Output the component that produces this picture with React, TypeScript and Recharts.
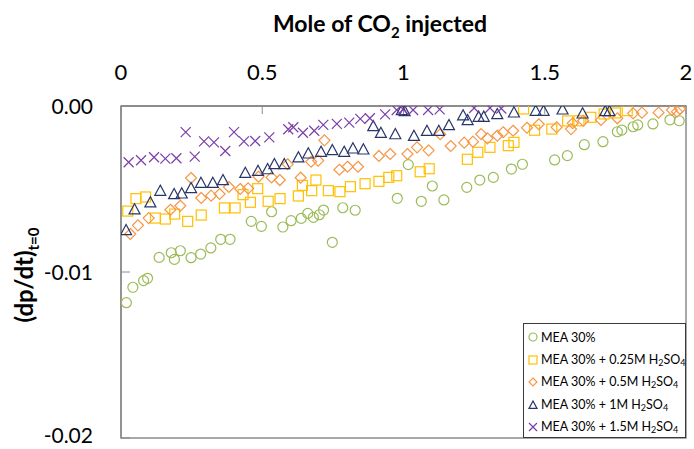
import React from 'react';
import { ScatterChart, Scatter, XAxis, YAxis, ReferenceArea, Legend } from 'recharts';

// [mole CO2 injected, (dp/dt) at t=0]
const mea30: [number, number][] = [
  [0.019, -0.01185], [0.042, -0.01092], [0.08, -0.01052], [0.094, -0.01038], [0.135, -0.00912],
  [0.178, -0.00884], [0.189, -0.00924], [0.21, -0.00872], [0.248, -0.00914], [0.282, -0.00892],
  [0.318, -0.00855], [0.353, -0.00803], [0.386, -0.00803], [0.461, -0.00695], [0.497, -0.00725],
  [0.533, -0.00637], [0.573, -0.00729], [0.602, -0.00691], [0.638, -0.00677], [0.661, -0.00647],
  [0.681, -0.00671], [0.702, -0.00655], [0.717, -0.00627], [0.748, -0.00821], [0.785, -0.00613],
  [0.829, -0.00628], [0.978, -0.00556], [1.017, -0.00353], [1.063, -0.00574], [1.102, -0.00482],
  [1.143, -0.00566], [1.224, -0.0049], [1.27, -0.00446], [1.318, -0.0043], [1.382, -0.0038],
  [1.421, -0.00351], [1.535, -0.00325], [1.58, -0.00299], [1.64, -0.00233], [1.706, -0.00215],
  [1.757, -0.00155], [1.773, -0.00145], [1.813, -0.00125], [1.829, -0.00114], [1.883, -0.00108],
  [1.943, -0.00083], [1.976, -0.00089],
];

const mea025: [number, number][] = [
  [0.024, -0.00633], [0.053, -0.00558], [0.087, -0.00548], [0.122, -0.00675], [0.157, -0.00681],
  [0.19, -0.00651], [0.236, -0.00695], [0.284, -0.00657], [0.366, -0.00614], [0.404, -0.00614],
  [0.432, -0.00534], [0.458, -0.0058], [0.484, -0.00498], [0.521, -0.00574], [0.563, -0.00558],
  [0.628, -0.00542], [0.642, -0.00478], [0.675, -0.0051], [0.69, -0.00446], [0.734, -0.0051],
  [0.775, -0.00516], [0.812, -0.00486], [0.864, -0.00468], [0.913, -0.00454], [0.948, -0.0043],
  [0.976, -0.0042], [1.059, -0.00396], [1.091, -0.00378], [1.226, -0.00321], [1.263, -0.00279],
  [1.306, -0.00249], [1.371, -0.00239], [1.391, -0.00219], [1.425, -0.00018], [1.464, -0.00146],
  [1.525, -0.00139], [1.581, -0.0009], [1.621, -0.00089], [1.663, -0.00068], [1.71, -0.00048],
  [1.75, -0.00042], [1.792, -0.00028],
];

const mea05: [number, number][] = [
  [0.033, -0.00771], [0.06, -0.00719], [0.098, -0.00675], [0.175, -0.00625], [0.21, -0.00601],
  [0.248, -0.00434], [0.284, -0.00554], [0.319, -0.0054], [0.349, -0.0053], [0.382, -0.00488],
  [0.422, -0.005], [0.45, -0.00496], [0.487, -0.00426], [0.533, -0.0043], [0.562, -0.00446],
  [0.59, -0.00351], [0.636, -0.00432], [0.673, -0.00336], [0.698, -0.00329], [0.72, -0.00207],
  [0.773, -0.00384], [0.802, -0.00366], [0.839, -0.00366], [0.913, -0.00301], [0.953, -0.00289],
  [1.014, -0.00289], [1.048, -0.00249], [1.089, -0.00267], [1.13, -0.0017], [1.167, -0.00241],
  [1.215, -0.00221], [1.246, -0.00215], [1.275, -0.00169], [1.297, -0.00195], [1.332, -0.00179],
  [1.353, -0.00158], [1.388, -0.00149], [1.437, -0.00131], [1.479, -0.0011], [1.542, -0.00128],
  [1.593, -0.00139], [1.599, -0.00104], [1.636, -0.00089], [1.699, -0.00084], [1.757, -0.00074],
  [1.813, -0.00044], [1.844, -0.0004], [1.903, -0.0004], [1.95, -0.00024], [1.968, -0.00034],
  [1.979, -0.00018],
];

const mea1: [number, number][] = [
  [0.018, -0.00747], [0.048, -0.00622], [0.104, -0.0058], [0.139, -0.0051], [0.188, -0.0053],
  [0.215, -0.00526], [0.248, -0.00494], [0.283, -0.00462], [0.325, -0.00462], [0.361, -0.00446],
  [0.44, -0.00402], [0.485, -0.0039], [0.519, -0.0038], [0.543, -0.00349], [0.578, -0.00349],
  [0.628, -0.00309], [0.663, -0.00285], [0.708, -0.00275], [0.748, -0.00265], [0.79, -0.00275],
  [0.821, -0.00255], [0.858, -0.00261], [0.893, -0.0012], [0.92, -0.00161], [0.971, -0.00169],
  [0.994, -0.00024], [1.004, -0.0003], [1.037, -0.00179], [1.083, -0.00149], [1.125, -0.00149],
  [1.161, -0.00114], [1.211, -0.00056], [1.227, -0.00084], [1.266, -0.00064], [1.284, -0.00064],
  [1.332, -0.00048], [1.391, -0.00038], [1.468, -0.00028], [1.496, -0.00028], [1.563, -0.0002],
  [1.634, -0.00044], [1.714, -0.0003], [1.729, -0.0003],
];

const mea15: [number, number][] = [
  [0.027, -0.00339], [0.071, -0.00327], [0.117, -0.00309], [0.157, -0.00317], [0.196, -0.00315],
  [0.229, -0.00157], [0.261, -0.00305], [0.294, -0.00213], [0.329, -0.00219], [0.369, -0.00271],
  [0.4, -0.00157], [0.435, -0.00213], [0.475, -0.00211], [0.525, -0.00189], [0.592, -0.0014],
  [0.61, -0.00128], [0.644, -0.00161], [0.684, -0.00149], [0.716, -0.00114], [0.764, -0.00108],
  [0.808, -0.001], [0.847, -0.00078], [0.881, -0.00074], [0.935, -0.0005], [0.976, -0.00024],
  [0.999, -0.0002], [1.034, -0.00024], [1.087, -0.00024], [1.128, -0.0002], [1.25, -0.00012],
  [1.306, -0.00012], [1.346, -0.00015],
];

const xTicks = [0, 0.5, 1, 1.5, 2];
const yTicks = [-0.02, -0.01, 0];
const legendNames = ['MEA 30%', 'MEA 30% + 0.25M', 'MEA 30% + 0.5M', 'MEA 30% + 1M', 'MEA 30% + 1.5M'];

const GREEN = '#9bbb59';
const GOLD = '#ffc000';
const ORANGE = '#f79646';
const NAVY = '#28356a';
const PURPLE = '#7a3fa8';
const FONT = 'Lato, "Open Sans", sans-serif';

const toPoints = (arr: [number, number][]) => arr.map(([x, y]) => ({ x, y }));

const circle = (color: string, r = 5) => (p: any) => (
  <circle cx={p.cx} cy={p.cy} r={r} fill="none" stroke={color} strokeWidth={1.2} />
);
const square = (color: string, h = 5) => (p: any) => (
  <rect x={p.cx - h} y={p.cy - h} width={h * 2} height={h * 2} fill="none" stroke={color} strokeWidth={1.2} />
);
const diamond = (color: string, h = 5.5) => (p: any) => (
  <path
    d={`M${p.cx},${p.cy - h}L${p.cx + h},${p.cy}L${p.cx},${p.cy + h}L${p.cx - h},${p.cy}Z`}
    fill="none"
    stroke={color}
    strokeWidth={1.2}
  />
);
const triangle = (color: string, h = 5.5) => (p: any) => (
  <path
    d={`M${p.cx},${p.cy - h}L${p.cx + h},${p.cy + h * 0.85}L${p.cx - h},${p.cy + h * 0.85}Z`}
    fill="none"
    stroke={color}
    strokeWidth={1.2}
  />
);
const cross = (color: string, h = 5) => (p: any) => (
  <path
    d={`M${p.cx - h},${p.cy - h}L${p.cx + h},${p.cy + h}M${p.cx + h},${p.cy - h}L${p.cx - h},${p.cy + h}`}
    fill="none"
    stroke={color}
    strokeWidth={1.2}
  />
);

const series = [
  { key: 'mea30', data: mea30, color: GREEN, shape: circle },
  { key: 'mea025', data: mea025, color: GOLD, shape: square },
  { key: 'mea05', data: mea05, color: ORANGE, shape: diamond },
  { key: 'mea1', data: mea1, color: NAVY, shape: triangle },
  { key: 'mea15', data: mea15, color: PURPLE, shape: cross },
];

const XTitle = () => (
  <text x={380} y={32} textAnchor="middle" fontFamily={FONT} fontWeight={700} fontSize={23} fill="#000">
    Mole of CO
    <tspan fontSize={15} dy={6}>2</tspan>
    <tspan dy={-6}> injected</tspan>
  </text>
);

const YTitle = () => (
  <text
    transform="translate(33,275) rotate(-90)"
    textAnchor="middle"
    fontFamily={FONT}
    fontWeight={700}
    fontSize={24}
    fill="#000"
  >
    (dp/dt)
    <tspan fontSize={15} dy={6}>t=0</tspan>
  </text>
);

// y tick labels, right-aligned; the lowest one sits at the bottom edge, so keep it inside
const YTick = (props: any) => {
  const { x, y, payload } = props;
  const v = payload.value as number;
  const shift = v <= -0.02 ? -3 : 0;
  return (
    <text x={x} y={y + shift} dy={7.5} textAnchor="end" fontFamily={FONT} fontSize={21} fill="#000">
      {v.toFixed(2)}
    </text>
  );
};

const renderLegend = () => (
  <div
    style={{
      boxSizing: 'border-box',
      width: 163,
      height: 115,
      border: '1px solid #3a3a3a',
      background: '#fff',
      padding: '2px 0 0 3px',
      fontFamily: FONT,
      fontSize: 12.5,
      color: '#000',
    }}
  >
    {series.map((s, i) => (
      <div key={s.key} style={{ display: 'flex', alignItems: 'center', height: 22.5, whiteSpace: 'nowrap' }}>
        <svg width={12} height={12} style={{ marginRight: 2, flexShrink: 0 }}>
          {s.shape(s.color, 4)({ cx: 6, cy: 6 })}
        </svg>
        <span>
          {legendNames[i]}
          {i > 0 && (
            <>
              {' H'}
              <sub style={{ fontSize: 9, verticalAlign: '-2px' }}>2</sub>
              SO
              <sub style={{ fontSize: 9, verticalAlign: '-2px' }}>4</sub>
            </>
          )}
        </span>
      </div>
    ))}
  </div>
);

export default function App() {
  return (
    <div style={{ position: 'absolute', left: 0, top: 0 }}>
      <ScatterChart width={694} height={449} margin={{ top: 66, right: 8, bottom: 11, left: 41 }}>
        <ReferenceArea
          x1={0}
          x2={2}
          y1={-0.02}
          y2={0}
          fill="none"
          fillOpacity={0}
          stroke="#8c8c8c"
          strokeWidth={1.5}
          ifOverflow="visible"
        />
        <XAxis
          type="number"
          dataKey="x"
          orientation="top"
          domain={[0, 2]}
          ticks={xTicks}
          interval={0}
          height={40}
          allowDataOverflow
          axisLine={{ stroke: '#8c8c8c', strokeWidth: 2 }}
          tickLine={{ stroke: '#8c8c8c' }}
          tickSize={-8}
          tickMargin={34}
          tick={{ fontSize: 22, fill: '#000', fontFamily: FONT }}
          label={<XTitle />}
        />
        <YAxis
          type="number"
          dataKey="y"
          domain={[-0.02, 0]}
          ticks={yTicks}
          interval={0}
          width={80}
          allowDataOverflow
          axisLine={{ stroke: '#8c8c8c', strokeWidth: 1.5 }}
          tickLine={{ stroke: '#8c8c8c' }}
          tickSize={-9}
          tickMargin={37}
          tick={<YTick />}
          label={<YTitle />}
        />
        {series.map((s) => (
          <Scatter
            key={s.key}
            name={s.key}
            data={toPoints(s.data)}
            shape={s.shape(s.color)}
            isAnimationActive={false}
          />
        ))}
        <Legend
          layout="vertical"
          align="center"
          verticalAlign="middle"
          content={renderLegend}
          wrapperStyle={{ left: 523, top: 323, width: 163, height: 115 }}
        />
      </ScatterChart>
    </div>
  );
}
